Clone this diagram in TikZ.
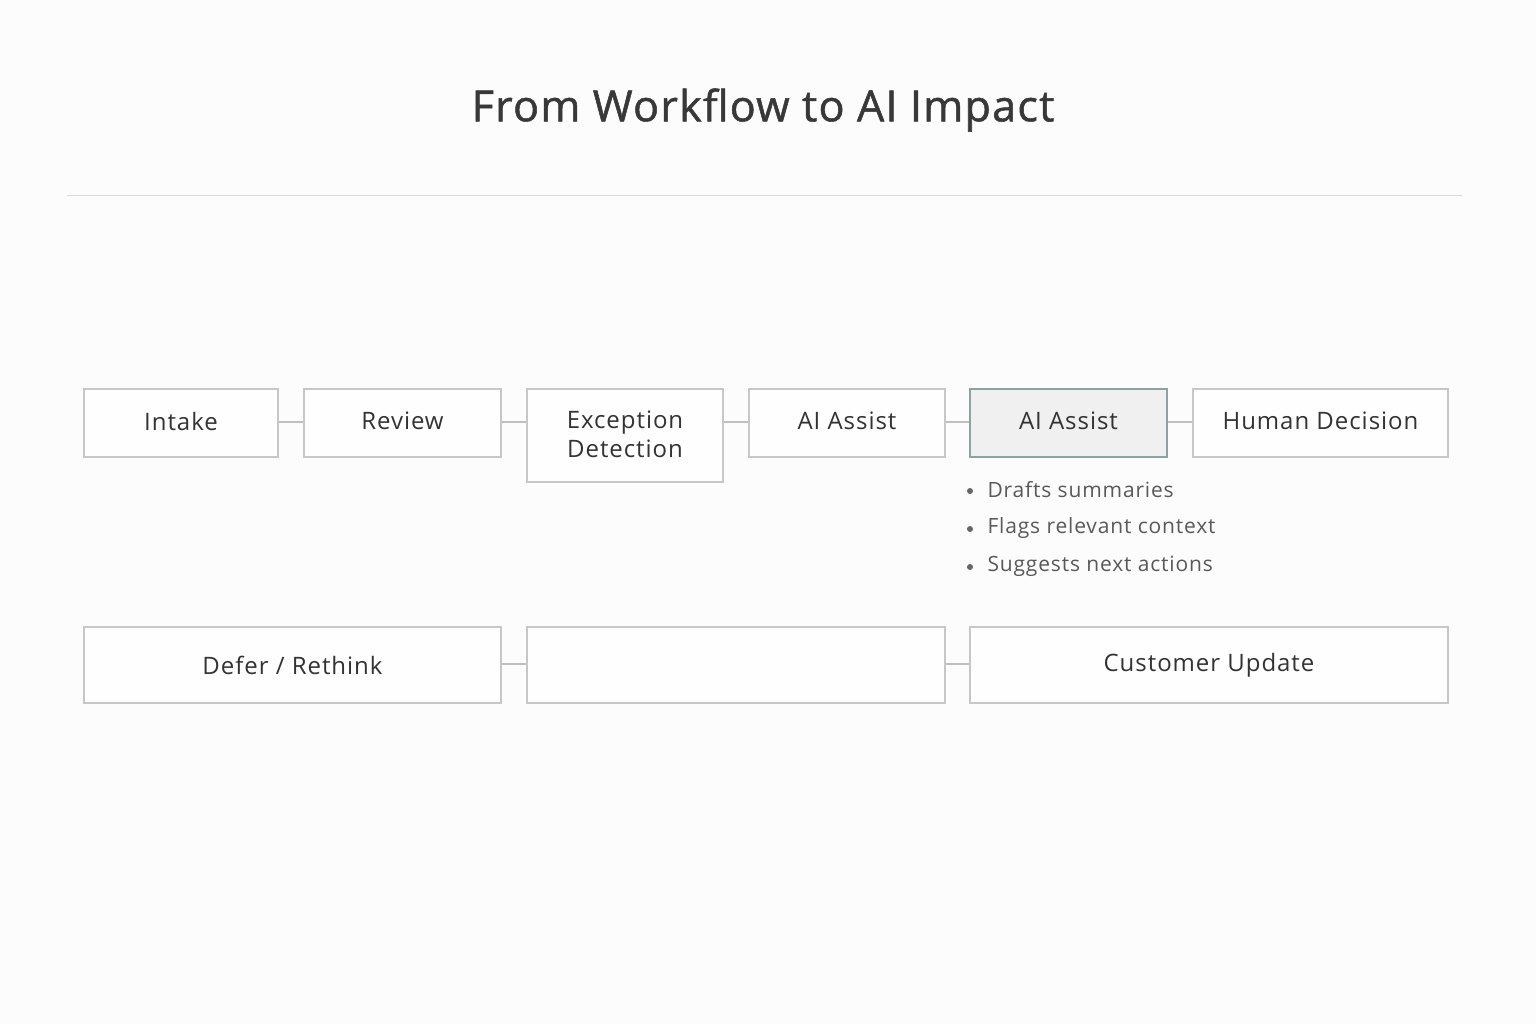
\documentclass[tikz,border=0pt]{standalone}
\usepackage{fontspec}
\setmainfont{Open Sans}
\newfontfamily\spaced[LetterSpace=4]{Open Sans}
\newfontfamily\titlef[LetterSpace=3,FakeBold=1.2]{Open Sans}
\begin{document}
\begin{tikzpicture}[x=1pt,y=-1pt,
  box/.style={draw=black!22,line width=1.2pt,fill=white!60!black!1,font=\spaced\fontsize{24}{29}\selectfont,text=black!80,align=center,inner sep=0},
  con/.style={draw=black!25,line width=1.2pt},
  bul/.style={anchor=west,font=\spaced\fontsize{21}{24}\selectfont,text=black!65}]
\fill[black!1] (0,0) rectangle (1536,1024);
\useasboundingbox (0,0) rectangle (1536,1024);
\node[font=\titlef\fontsize{43}{48}\selectfont,text=black!78] (title) at (763,110) {From Workflow to AI Impact};
\draw[black!15,line width=1pt] (67,196) coordinate (l1) -- (1462,196) coordinate (l2);
\node[box,minimum width=194,minimum height=68] (a) at (181,423) {\raisebox{4pt}{Intake}};
\node[box,minimum width=197,minimum height=68] (b) at (402.5,423) {\raisebox{4pt}{Review}};
\node[box,minimum width=196,minimum height=93] (c) at (625,435.5) {\raisebox{2pt}{\shortstack{Exception\\[3pt]Detection}}};
\node[box,minimum width=196,minimum height=68] (d) at (847,423) {\raisebox{4pt}{AI Assist}};
\node[box,minimum width=197,minimum height=68,fill=black!6,draw=teal!40!black!45,line width=1.6pt] (e) at (1068.5,423) {\raisebox{4pt}{AI Assist}};
\node[box,minimum width=255,minimum height=68] (f) at (1320.5,423) {\raisebox{4pt}{Human Decision}};
\node[box,minimum width=417,minimum height=76] (g) at (292.5,665) {Defer / Rethink};
\node[box,minimum width=418,minimum height=76] (h) at (736,665) {};
\node[box,minimum width=478,minimum height=76] (i) at (1209,665) {\raisebox{-3pt}{Customer Update}};
\draw[con] (a.east |- 0,422) -- (b.west |- 0,422);
\draw[con] (b.east |- 0,422) -- (c.west |- 0,422);
\draw[con] (c.east |- 0,422) -- (d.west |- 0,422);
\draw[con] (d.east |- 0,422) -- (e.west |- 0,422);
\draw[con] (e.east |- 0,422) -- (f.west |- 0,422);
\draw[con] (g.east |- 0,664) -- (h.west |- 0,664);
\draw[con] (h.east |- 0,664) -- (i.west |- 0,664);
\foreach \y/\t [count=\k] in {490/Drafts summaries,528/Flags relevant context,566/Suggests next actions}{
  \fill[black!60] (970,\y+1) circle (3);
  \node[bul] (bt\k) at (984,\y) {\t};
}
\end{tikzpicture}
\end{document}
